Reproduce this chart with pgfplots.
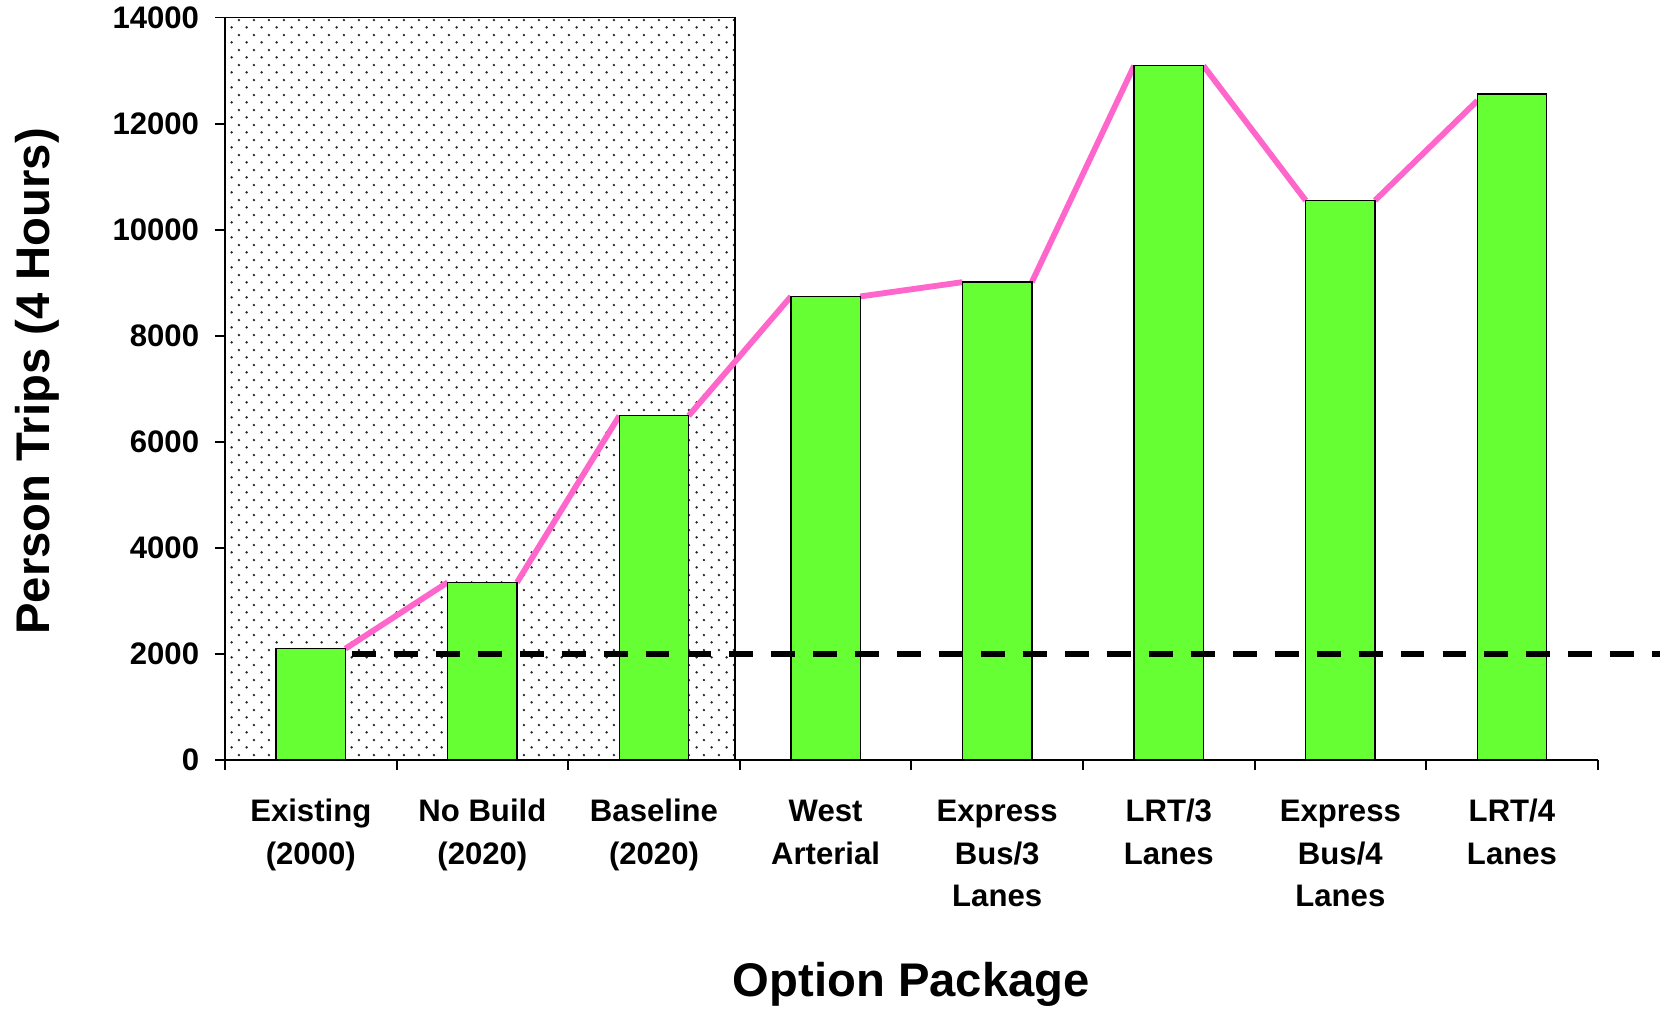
\documentclass[border=0pt]{standalone}
\usepackage{pgfplots}
\pgfplotsset{compat=1.18}
\usepackage{pgfplotstable}
\usepackage{fontspec}
\setmainfont{Liberation Sans}
\usetikzlibrary{patterns.meta}

\definecolor{barGreen}{HTML}{66FF33}
\definecolor{linePink}{HTML}{FF66CC}

% staggered dot fill for the existing/no-build/baseline block
\tikzdeclarepattern{
  name=stipple,
  type=uncolored,
  bounding box={(0pt,0pt) and (5.5pt,5.5pt)},
  tile size={(5.5pt,5.5pt)},
  code={
    \fill (1.375pt,1.375pt) circle[radius=0.5pt];
    \fill (4.125pt,4.125pt) circle[radius=0.5pt];
  }
}

% person trips per option package
\pgfplotstableread{
x v
0 2100
1 3350
2 6490
3 8740
4 9010
5 13090
6 10550
7 12560
}\trips

% trend segments joining the bar corners
\pgfplotstableread{
x v
0.202 2100
0.798 3350
nan nan
1.202 3350
1.798 6490
nan nan
2.202 6490
2.798 8740
nan nan
3.202 8740
3.798 9010
nan nan
4.202 9010
4.798 13090
nan nan
5.202 13090
5.798 10550
nan nan
6.202 10550
6.798 12430
}\trend

\begin{document}
\begin{tikzpicture}
\useasboundingbox (-81pt,-90pt) rectangle (519.84pt,273.6pt);
\begin{axis}[
  scale only axis,
  width=494.2pt, height=267.3pt,
  xmin=-0.5, xmax=7.5,
  ymin=0, ymax=14000,
  clip=false,
  axis lines*=left,
  axis line style={-, line width=0.7pt},
  tick align=outside,
  major tick length=3.6pt,
  tick style={black, line width=0.7pt},
  xtick={-0.5,0.5,...,7.5},
  xticklabels={,,,,,,,,},
  extra x ticks={0,1,...,7},
  extra x tick labels={{\strut Existing\\\strut(2000)},{\strut No Build\\\strut(2020)},{\strut Baseline\\\strut(2020)},{\strut West\\\strut Arterial},{\strut Express\\\strut Bus/3\\\strut Lanes},{\strut LRT/3\\\strut Lanes},{\strut Express\\\strut Bus/4\\\strut Lanes},{\strut LRT/4\\\strut Lanes}},
  extra x tick style={major tick length=0pt, xticklabel style={align=center, anchor=north, yshift=-8pt}},
  ytick={0,2000,...,14000},
  scaled y ticks=false,
  yticklabel style={xshift=-2.2pt},
  /pgf/number format/1000 sep={},
  /pgf/number format/assume math mode=true,
  ticklabel style={font=\fontsize{11.2}{15.3}\selectfont\bfseries},
  xlabel={Option Package},
  ylabel={Person Trips (4 Hours)},
  label style={font=\fontsize{17}{20}\selectfont\bfseries},
  xlabel style={at={(axis description cs:0.5,-0.319)}, anchor=base, inner sep=0pt},
  ylabel style={at={(axis description cs:-0.153,0.51)}, anchor=north, inner sep=0pt},
  unbounded coords=jump,
]
% stippled block behind the first three packages
\addplot[draw=black, line width=0.6pt, pattern=stipple, pattern color=black!85]
  coordinates {(-0.5,0) (-0.5,14000) (2.472,14000) (2.472,0) (-0.5,0)};
% trend line
\addplot[linePink, line width=2.1pt] table[x=x, y=v] {\trend};
% bars
\addplot[ybar, bar width=0.404, fill=barGreen, draw=black, line width=0.5pt]
  table[x=x, y=v] {\trips};
% 2000-trip threshold
\addplot[black, line width=2.2pt, dash pattern=on 8.6pt off 6.5pt]
  coordinates {(0.240,2000) (7.86,2000)};
\end{axis}
\end{tikzpicture}
\end{document}
